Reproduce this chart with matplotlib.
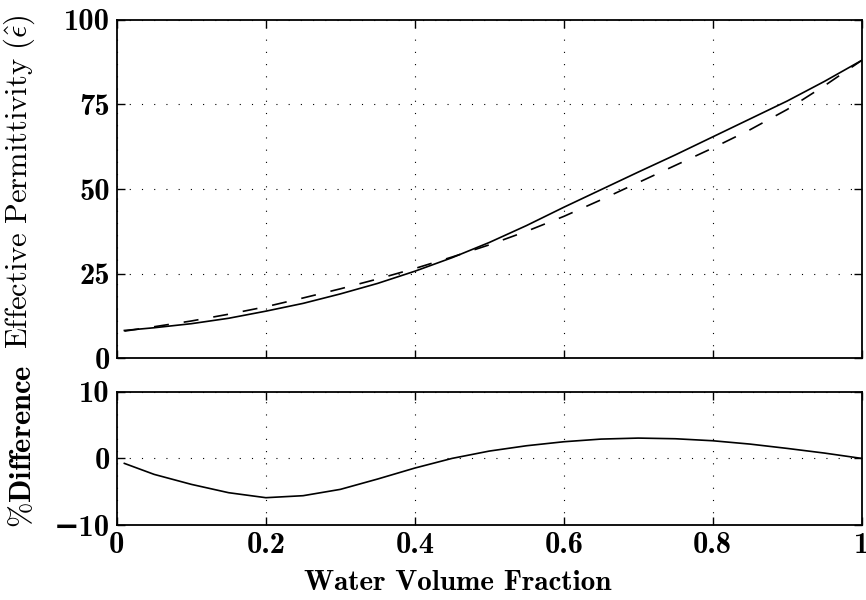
import matplotlib
matplotlib.use("Agg")
import matplotlib.pyplot as plt

plt.rcParams['mathtext.fontset'] = 'cm'

# water volume fraction
frac = [0.01, 0.05, 0.1, 0.15, 0.2, 0.25, 0.3, 0.35, 0.4, 0.45, 0.5,
        0.55, 0.6, 0.65, 0.7, 0.75, 0.8, 0.85, 0.9, 0.95, 1.0]
# effective permittivity, solid curve
eps_solid = [8.2, 9.0, 10.2, 11.8, 13.9, 16.2, 19.0, 22.1, 25.7, 29.7, 34.2,
             39.2, 44.6, 49.8, 55.0, 60.1, 65.4, 70.7, 76.0, 81.8, 88.0]
# effective permittivity, dashed curve
eps_dashed = [8.0, 9.3, 11.0, 13.0, 15.2, 17.8, 20.5, 23.4, 26.5, 29.9, 33.5,
              37.5, 41.9, 46.8, 51.9, 57.0, 62.1, 67.5, 73.5, 80.5, 88.0]
# percent difference
pct_diff = [-0.75, -2.4, -3.9, -5.15, -5.9, -5.6, -4.65, -3.1, -1.45, 0.0, 1.1,
            1.9, 2.5, 2.9, 3.05, 2.95, 2.65, 2.15, 1.5, 0.8, 0.0]

xticks = [0, 0.2, 0.4, 0.6, 0.8, 1]
xticklabels = ['0', '0.2', '0.4', '0.6', '0.8', '1']
yticks_top = [0, 25, 50, 75, 100]
yticklabels_top = ['0', '25', '50', '75', '100']
yticks_bot = [-10, 0, 10]
yticklabels_bot = ['\u221210', '0', '10']

tick_font = dict(family=['cmb10', 'DejaVu Serif'], weight='bold', size=22)

fig = plt.figure(figsize=(8.66, 6), dpi=100)
ax1 = fig.add_axes([0.135, 0.403, 0.86, 0.564])
ax2 = fig.add_axes([0.135, 0.125, 0.86, 0.222])

ax1.plot(frac, eps_solid, color='black', lw=1.2)
ax1.plot(frac, eps_dashed, color='black', lw=1.2, linestyle=(0, (9, 9)))
ax2.plot(frac, pct_diff, color='black', lw=1.2)

for ax in (ax1, ax2):
    ax.set_xlim(0, 1)
    ax.set_xticks(xticks)
    ax.grid(True, color='black', linestyle=(0, (1, 10)), linewidth=0.8)
    ax.tick_params(direction='in', length=6, width=1, top=True, right=True, pad=5)
    for s in ax.spines.values():
        s.set_linewidth(1.3)

ax1.set_ylim(0, 100)
ax1.set_yticks(yticks_top)
ax1.set_yticklabels(yticklabels_top, fontdict=tick_font)
ax1.set_xticklabels([])

ax2.set_ylim(-10, 10)
ax2.set_yticks(yticks_bot)
ax2.set_yticklabels(yticklabels_bot, fontdict=tick_font)
ax2.set_xticklabels(xticklabels, fontdict=tick_font)

ax2.set_xlabel('Water Volume Fraction', family='cmb10', fontsize=21)
ax2.xaxis.set_label_coords(0.458, -0.34)
ax1.set_ylabel(r'$\mathrm{Effective\ Permittivity}\ (\hat{\epsilon})$', fontsize=22)
ax2.set_ylabel(r'$\%\mathbf{Difference}$', fontsize=22)
ax1.yaxis.set_label_coords(-0.107, 0.522)
ax2.yaxis.set_label_coords(-0.107, 0.59)

fig.savefig('out.png', dpi=100)
